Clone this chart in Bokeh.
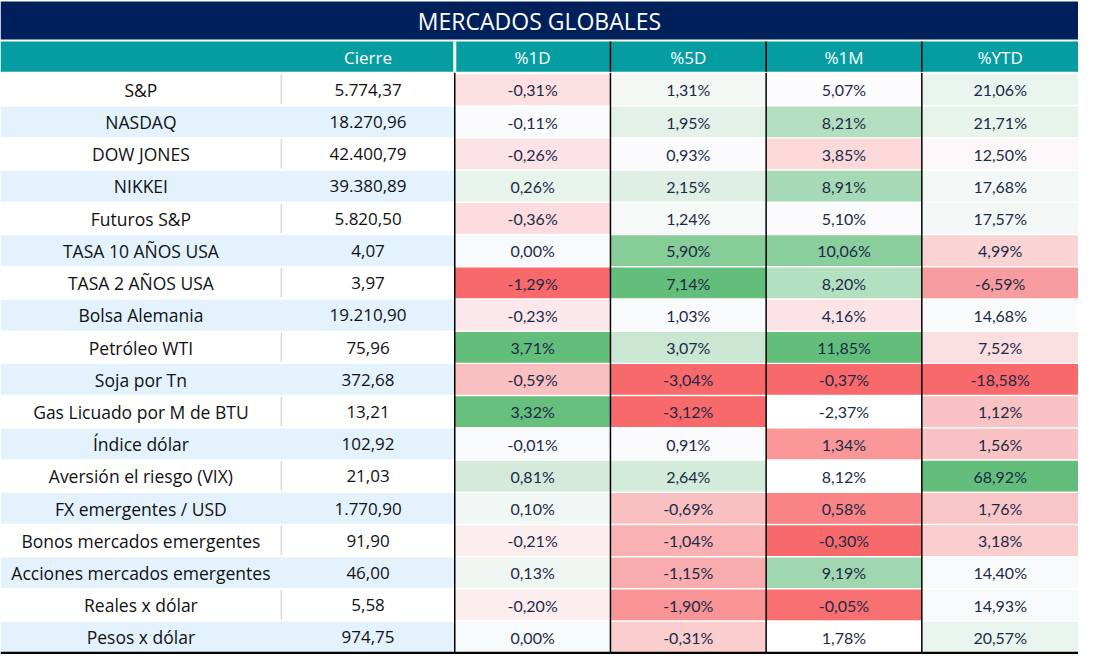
from bokeh.plotting import figure
from bokeh.models import ColumnDataSource, Range1d
from bokeh.embed import file_html
from bokeh.resources import INLINE
from bokeh.core.properties import value

# ---------------- data ----------------
title = "MERCADOS GLOBALES"
headers = ["Cierre", "%1D", "%5D", "%1M", "%YTD"]

names = ["S&P", "NASDAQ", "DOW JONES", "NIKKEI", "Futuros S&P", "TASA 10 AÑOS USA",
         "TASA 2 AÑOS USA", "Bolsa Alemania", "Petróleo WTI", "Soja por Tn",
         "Gas Licuado por M de BTU", "Índice dólar", "Aversión el riesgo (VIX)",
         "FX emergentes / USD", "Bonos mercados emergentes", "Acciones mercados emergentes",
         "Reales x dólar", "Pesos x dólar"]

cierre = [5774.37, 18270.96, 42400.79, 39380.89, 5820.50, 4.07, 3.97, 19210.90, 75.96,
          372.68, 13.21, 102.92, 21.03, 1770.90, 91.90, 46.00, 5.58, 974.75]

pct_1d = [-0.31, -0.11, -0.26, 0.26, -0.36, 0.00, -1.29, -0.23, 3.71, -0.59, 3.32,
          -0.01, 0.81, 0.10, -0.21, 0.13, -0.20, 0.00]
pct_5d = [1.31, 1.95, 0.93, 2.15, 1.24, 5.90, 7.14, 1.03, 3.07, -3.04, -3.12, 0.91,
          2.64, -0.69, -1.04, -1.15, -1.90, -0.31]
pct_1m = [5.07, 8.21, 3.85, 8.91, 5.10, 10.06, 8.20, 4.16, 11.85, -0.37, -2.37, 1.34,
          8.12, 0.58, -0.30, 9.19, -0.05, 1.78]
pct_ytd = [21.06, 21.71, 12.50, 17.68, 17.57, 4.99, -6.59, 14.68, 7.52, -18.58, 1.12,
           1.56, 68.92, 1.76, 3.18, 14.40, 14.93, 20.57]

# cell fill colours (conditional formatting)
colors_1d = ["#FCE0E2", "#FBFBFD", "#FCE3E5", "#E8F3EC", "#FCDCDE", "#F7FAFB", "#F8696B",
             "#FCE8EA", "#63BE7B", "#F9BFC1", "#66BF7D", "#F8FAFB", "#D4EBDC", "#F1F7F4",
             "#FCEDEE", "#F0F7F3", "#FCEDEE", "#F7FAFB"]
colors_5d = ["#F3F8F5", "#E3F1E8", "#FBFBFD", "#DFEFE5", "#F5F9F7", "#86CD98", "#63BE7B",
             "#F9FAFC", "#C9E7D2", "#F8696B", "#F8696B", "#FBFBFD", "#D3EBDB", "#F9C0C2",
             "#F9B1B3", "#F9ACAE", "#F89496", "#FACDCF"]
colors_1m = ["#FCFCFE", "#B3DFC0", "#FBD9DB", "#A6D9B5", "#FBFBFD", "#8ACE9C", "#B4E0C2",
             "#FCE3E5", "#63BE7B", "#F8696B", "#FFFFFF", "#F99698", "#FFFFFF", "#F98385",
             "#F8696B", "#A1D7B0", "#F86F71", "#FFFFFF"]
colors_ytd = ["#EAF4EE", "#E7F3EB", "#FCF7F9", "#F3F8F6", "#F3F8F6", "#FAD3D5", "#F89D9F",
              "#FAFBFD", "#FBDEE0", "#F8696B", "#F9C2C4", "#F9C3C5", "#63BE7B", "#F9C6C8",
              "#FACDCF", "#F9FAFC", "#F7FAFB", "#EAF4EE"]

# ---------------- layout constants ----------------
W, H = 1094, 670
col_edges = [0, 285, 461, 619, 777, 935, 1094]
title_top, title_bot = 1, 40
head_top, head_bot = 42, 73
row_top0, row_h = 74, 33
n = len(names)

NAVY = "#00205B"
TEAL = "#069DA2"
BLUE_ROW = "#E3F2FD"
FONT = "Open Sans"
NUM_FONT = "Lato"


def fmt_num(v):
    s = f"{v:,.2f}"
    return s.replace(",", "X").replace(".", ",").replace("X", ".")


def fmt_pct(v):
    return f"{v:.2f}%".replace(".", ",")


p = figure(width=1078, height=654, output_backend="svg", toolbar_location=None,
           x_range=Range1d(0, W), y_range=Range1d(H, 0), min_border=0)
p.axis.visible = False
p.grid.visible = False
p.outline_line_color = None
p.background_fill_color = "white"
p.border_fill_color = "white"

# title band
p.quad(left=[0], right=[W], top=[title_top], bottom=[title_bot], fill_color=NAVY, line_color=None)
p.text(x=[W / 2], y=[(title_top + title_bot) / 2 + 1], text=[title], text_align="center",
       text_baseline="middle", text_color="white", text_font=value(FONT),
       text_font_size="23px")

# header band
p.quad(left=[0], right=[W], top=[head_top], bottom=[head_bot], fill_color=TEAL, line_color=None)
hx = [(col_edges[i + 1] + col_edges[i + 2]) / 2 for i in range(len(headers))]
p.text(x=hx, y=[(head_top + head_bot) / 2 + 1] * len(headers), text=headers,
       text_align="center", text_baseline="middle", text_color="white",
       text_font=value(FONT), text_font_size="17px")
p.segment(x0=[461], y0=[head_top], x1=[461], y1=[head_bot], line_color="white", line_width=3)
p.segment(x0=[619, 777, 935], y0=[head_top] * 3, x1=[619, 777, 935], y1=[head_bot] * 3,
          line_color="black", line_width=1.5)

# rows: name + cierre background
tops = [row_top0 + i * row_h for i in range(n)]
bots = [t + row_h for t in tops]
row_src = ColumnDataSource(dict(
    left=[0] * n, right=[461] * n, top=[t + 1.5 for t in tops], bottom=bots,
    color=["white" if i % 2 == 0 else BLUE_ROW for i in range(n)]))
p.quad(left="left", right="right", top="top", bottom="bottom", fill_color="color",
       line_color=None, source=row_src)

# light gray separator between name & cierre on white rows
wt = [tops[i] + 2 for i in range(n) if i % 2 == 0]
wb = [bots[i] - 1 for i in range(n) if i % 2 == 0]
p.segment(x0=[285] * len(wt), y0=wt, x1=[285] * len(wt), y1=wb, line_color="#D9D9D9",
          line_width=1.5)

# pct cells
pct_cols = [pct_1d, pct_5d, pct_1m, pct_ytd]
col_colors = [colors_1d, colors_5d, colors_1m, colors_ytd]
cl, cr, ct, cb, cc, tx, ty, tt = [], [], [], [], [], [], [], []
for j, (vals, cols) in enumerate(zip(pct_cols, col_colors)):
    l, r = col_edges[j + 2], col_edges[j + 3]
    for i in range(n):
        cl.append(l)
        cr.append(r)
        ct.append(tops[i] + 1.5)
        cb.append(bots[i])
        cc.append(cols[i])
        tx.append((l + r) / 2)
        ty.append((tops[i] + bots[i]) / 2 + 1)
        tt.append(fmt_pct(vals[i]))
p.quad(left=cl, right=cr, top=ct, bottom=cb, fill_color=cc, line_color=None)

# vertical black separators
p.segment(x0=[461, 619, 777, 935], y0=[row_top0] * 4, x1=[461, 619, 777, 935],
          y1=[bots[-1]] * 4, line_color="black", line_width=1.5)
# bottom line
p.segment(x0=[0], y0=[bots[-1] + 0.5], x1=[W], y1=[bots[-1] + 0.5], line_color="black",
          line_width=2.5)

# texts
cy = [(t + b) / 2 + 1 for t, b in zip(tops, bots)]
p.text(x=[142.5] * n, y=cy, text=names, text_align="center", text_baseline="middle",
       text_color="#111111", text_font=value(FONT), text_font_size="17.5px")
p.text(x=[373] * n, y=cy, text=[fmt_num(v) for v in cierre], text_align="center",
       text_baseline="middle", text_color="#111111", text_font=value(FONT),
       text_font_size="17px", text_font_style="normal")
p.text(x=tx, y=ty, text=tt, text_align="center", text_baseline="middle",
       text_color="#1C2A48", text_font=value(NUM_FONT), text_font_size="16px")

open("out.html", "w").write(file_html(p, INLINE))
